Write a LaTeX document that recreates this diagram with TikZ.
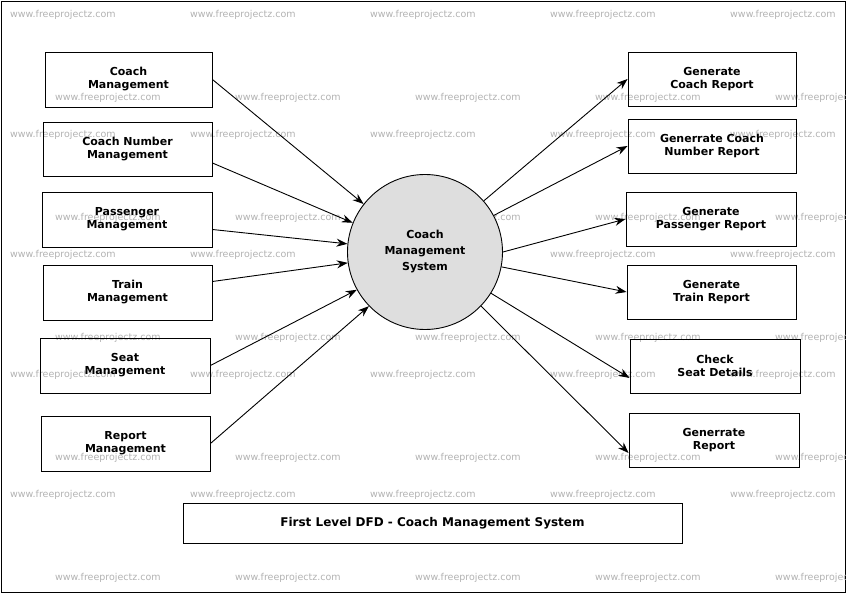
\documentclass[tikz,border=0pt]{standalone}
\usepackage{fontspec}
\setmainfont{DejaVu Sans}
\usetikzlibrary{arrows.meta}
\begin{document}
\begin{tikzpicture}[x=1pt,y=-1pt,
  box/.style={draw,line width=0.9pt,minimum width=#1,inner sep=0pt,font=\bfseries\fontsize{11}{13}\selectfont,align=center},
  flow/.style={-{Stealth[length=11pt,width=8pt]},line width=0.9pt},
  wm/.style={text=black!30,font=\fontsize{9.5}{11}\selectfont,anchor=west,inner sep=0pt}]
\draw[line width=0.9pt] (1,1) rectangle (845,592);
\useasboundingbox (0,0) rectangle (846,593);
\foreach \y in {15,135,255,375,495}{\foreach \x in {10,190,370,550,730}{\node[wm] at (\x,\y) {www.freeprojectz.com};}}
\foreach \y in {98,218,338,458,578}{\foreach \x in {55,235,415,595,775}{\node[wm] at (\x,\y) {www.freeprojectz.com};}}
\node[draw,circle,fill=black!13,line width=0.9pt,minimum size=155pt,inner sep=0pt,font=\bfseries\fontsize{11}{16}\selectfont,align=center] (c) at (425,252) {Coach\\Management\\System};
\node[box=167pt,minimum height=55pt] (l1) at (128.5,79.5) {Coach\\Management};
\node[box=169pt,minimum height=54pt] (l2) at (127.5,149) {Coach Number\\Management};
\node[box=170pt,minimum height=55pt] (l3) at (127,219.5) {Passenger\\Management};
\node[box=169pt,minimum height=55pt] (l4) at (127.5,292.5) {Train\\Management};
\node[box=170pt,minimum height=55pt] (l5) at (125,365.5) {Seat\\Management};
\node[box=169pt,minimum height=55pt] (l6) at (125.5,443.5) {Report\\Management};
\node[box=168pt,minimum height=54pt] (r1) at (712,79) {Generate\\Coach Report};
\node[box=168pt,minimum height=54pt] (r2) at (712,146) {Generrate Coach\\Number Report};
\node[box=170pt,minimum height=54pt] (r3) at (711,219) {Generate\\Passenger Report};
\node[box=169pt,minimum height=54pt] (r4) at (711.5,292) {Generate\\Train Report};
\node[box=170pt,minimum height=54pt] (r5) at (715,366) {Check\\Seat Details};
\node[box=170pt,minimum height=54pt] (r6) at (714,440) {Generrate\\Report};
\node[box=499pt,minimum height=40pt,font=\bfseries\fontsize{12}{14}\selectfont] (t) at (432.5,523) {First Level DFD - Coach Management System};
\draw[flow] (l1.east) -- (c.142);
\draw[flow] ([yshift=-14pt]l2.east) -- (c.158);
\draw[flow] ([yshift=-10pt]l3.east) -- (c.174);
\draw[flow] ([yshift=11pt]l4.east) -- (c.188);
\draw[flow] (l5.east) -- (c.209);
\draw[flow] (l6.east) -- (c.224);
\draw[flow] (c.41) -- (r1.west);
\draw[flow] (c.28) -- (r2.west);
\draw[flow] (c.0) -- (r3.west);
\draw[flow] (c.-11) -- (r4.west);
\draw[flow] (c.-32) -- ([yshift=-12pt]r5.west);
\draw[flow] (c.-44) -- ([yshift=-13pt]r6.west);
\end{tikzpicture}
\end{document}
